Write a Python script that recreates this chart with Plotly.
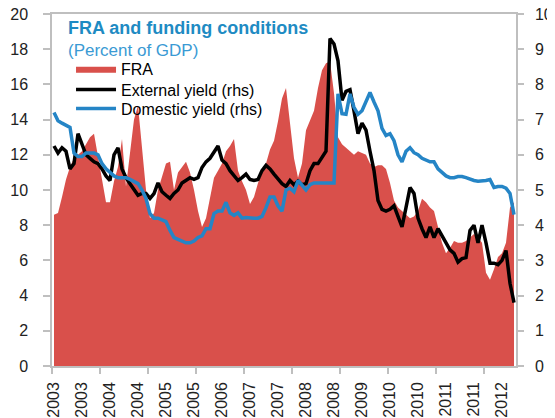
import plotly.graph_objects as go

# Monthly data, Jan 2003 - Aug 2012
fra = [8.6, 8.7, 9.6, 10.6, 11.3, 11.8, 12.0, 12.2, 12.6, 13.0, 13.2, 11.9,
       10.4, 9.3, 9.3, 10.5, 11.3, 12.9, 10.2, 12.0, 14.0, 14.8, 12.5, 10.0,
       8.4, 8.7, 10.0, 10.8, 11.5, 11.6, 10.0, 11.0, 11.3, 11.6, 11.0, 10.0,
       8.8, 7.9, 8.4, 9.6, 10.7, 11.1, 11.5, 12.2, 12.5, 12.9, 11.1, 10.5,
       10.0, 9.2, 9.6, 10.4, 11.0, 11.5, 12.3, 12.8, 13.9, 15.2, 15.8, 13.9,
       11.8, 10.7, 11.5, 13.4, 14.0, 14.5, 15.8, 16.8, 17.2, 17.3, 15.5, 13.0,
       12.6, 12.4, 12.2, 12.0, 12.2, 12.1, 12.0, 11.5, 11.3, 11.4, 11.4, 11.2,
       10.4, 9.4, 9.0, 8.8, 8.6, 8.4, 8.5, 8.8, 9.5, 9.3, 9.0, 8.8,
       7.9, 7.0, 6.4, 6.7, 7.1, 7.0, 7.0, 7.1, 7.3, 7.5, 7.3, 7.0,
       5.3, 4.9, 5.5, 6.2, 6.4, 7.0, 9.0, 9.3]

external_yield = [6.25, 6.05, 6.2, 6.1, 5.6, 5.75, 6.6, 6.3, 6.0, 5.9, 5.8, 5.75,
                  5.6, 5.4, 5.27, 6.0, 6.2, 5.6, 5.35, 5.18, 5.0, 4.85, 4.9, 4.9,
                  4.76, 4.9, 5.2, 4.95, 4.85, 4.76, 4.9, 5.0, 5.2, 5.27, 5.35, 5.3,
                  5.35, 5.64, 5.8, 5.9, 6.1, 6.25, 5.85, 5.75, 5.55, 5.4, 5.27, 5.35,
                  5.45, 5.3, 5.27, 5.3, 5.55, 5.7, 5.6, 5.45, 5.3, 5.18, 5.1, 5.27,
                  5.15, 5.25, 5.15, 5.18, 5.55, 5.75, 5.75, 5.92, 6.1, 9.3, 9.15, 8.67,
                  7.55, 7.8, 7.85, 7.25, 6.6, 6.9, 6.7, 6.1, 5.55, 4.7, 4.45, 4.4,
                  4.45, 4.55, 4.22, 3.95, 4.5, 5.07, 4.9, 4.2, 3.9, 3.65, 3.95, 3.65,
                  3.9, 3.7, 3.48, 3.3, 3.2, 2.95, 3.05, 3.08, 3.85, 4.0, 3.5, 4.0,
                  3.5, 2.92, 2.92, 2.88, 3.0, 3.28, 2.35, 1.8]

domestic_yield = [7.2, 6.97, 6.9, 6.85, 6.78, 6.05, 5.95, 5.95, 6.05, 6.05, 6.05, 6.0,
                  5.75, 5.6, 5.5, 5.4, 5.35, 5.35, 5.35, 5.3, 5.25, 5.18, 5.0, 4.76,
                  4.33, 4.2, 4.2, 4.15, 4.1, 3.85, 3.65, 3.6, 3.55, 3.5, 3.5, 3.55,
                  3.65, 3.7, 3.9, 3.9, 4.33, 4.4, 4.4, 4.65, 4.35, 4.28, 4.35, 4.2,
                  4.22, 4.2, 4.2, 4.2, 4.25, 4.5, 4.8, 4.8, 4.55, 4.4, 5.0, 5.05,
                  4.95, 5.27, 5.15, 5.0, 5.15, 5.2, 5.2, 5.2, 5.2, 5.2, 5.2, 7.73,
                  7.17, 7.15, 7.73, 7.35, 7.15, 7.25, 7.5, 7.77, 7.5, 7.25, 6.75, 6.55,
                  6.6, 6.4, 6.0, 5.8, 6.1, 6.2, 6.06, 6.0, 5.9, 5.85, 5.8, 5.8,
                  5.6, 5.5, 5.4, 5.35, 5.35, 5.38, 5.38, 5.35, 5.3, 5.27, 5.25, 5.25,
                  5.27, 5.3, 5.07, 5.1, 5.1, 5.05, 4.9, 4.3]

months = list(range(len(fra)))
label_months = [0, 7, 14, 21, 28, 35, 42, 49, 56, 63, 70, 77, 84, 91, 98, 105, 112]
label_text = [str(2003 + m // 12) for m in label_months]

RED = "#D9504B"
BLUE = "#2585C6"
TITLE_BLUE = "#1E8BC3"
GRAY = "#BFBFBF"
TXT = "#222222"
FONT = "Liberation Sans"

fig = go.Figure()
fig.add_trace(go.Scatter(x=months, y=fra, name="FRA", mode="lines",
                         fill="tozeroy", fillcolor=RED, line=dict(width=0, color=RED),
                         yaxis="y", legend="legend"))
fig.add_trace(go.Scatter(x=months, y=external_yield, name="External yield (rhs)",
                         mode="lines", line=dict(color="#000000", width=3.5),
                         yaxis="y2", legend="legend2"))
fig.add_trace(go.Scatter(x=months, y=domestic_yield, name="Domestic yield (rhs)",
                         mode="lines", line=dict(color=BLUE, width=3.5),
                         yaxis="y2", legend="legend3"))

leg_common = dict(xanchor="left", yanchor="middle", bgcolor="rgba(0,0,0,0)",
                  font=dict(size=16, color="#000000"), itemwidth=40,
                  borderwidth=0)

fig.update_layout(
    width=547, height=410,
    margin=dict(l=44, r=39, t=6, b=52, autoexpand=False),
    paper_bgcolor="white", plot_bgcolor="white",
    font=dict(family=FONT, color=TXT),
    xaxis=dict(range=[-0.5, len(fra) - 0.5], showgrid=False, zeroline=False,
               automargin=False,
               showline=True, linecolor=GRAY, linewidth=1.5, mirror=True,
               tickmode="array", tickvals=label_months, ticktext=label_text,
               tickangle=-90, ticks="", ticklabelstandoff=8,
               tickfont=dict(size=16, color=TXT),
               minor=dict(tickmode="linear", tick0=-0.5, dtick=12, ticks="outside",
                          ticklen=6, tickcolor=GRAY, tickwidth=1.5, showgrid=False)),
    yaxis=dict(range=[0, 20], dtick=2, showgrid=False, zeroline=False,
               automargin=False,
               showline=True, linecolor=GRAY, linewidth=1.5,
               ticks="outside", ticklen=7, tickcolor=GRAY, tickwidth=1.5,
               ticklabelstandoff=12, ticklabeloverflow="allow",
               tickfont=dict(size=16, color=TXT)),
    yaxis2=dict(range=[0, 10], dtick=1, overlaying="y", side="right",
                automargin=False,
                showgrid=False, zeroline=False,
                showline=True, linecolor=GRAY, linewidth=1.5,
                ticks="outside", ticklen=6, tickcolor=GRAY, tickwidth=1.5,
                ticklabelstandoff=8, ticklabeloverflow="allow",
                tickfont=dict(size=16, color=TXT)),
    showlegend=True,
    legend=dict(x=0.041, y=0.844, **leg_common),
    legend2=dict(x=0.041, y=0.785, **leg_common),
    legend3=dict(x=0.041, y=0.731, **leg_common),
    annotations=[
        dict(text="<b>FRA and funding conditions</b>", xref="paper", yref="paper",
             x=0.03, y=0.995, xanchor="left", yanchor="top", showarrow=False,
             font=dict(size=18, color=TITLE_BLUE)),
        dict(text="(Percent of GDP)", xref="paper", yref="paper",
             x=0.03, y=0.93, xanchor="left", yanchor="top", showarrow=False,
             font=dict(size=17, color="#3A9AD4")),
    ],
)

fig.write_html("out.html")
